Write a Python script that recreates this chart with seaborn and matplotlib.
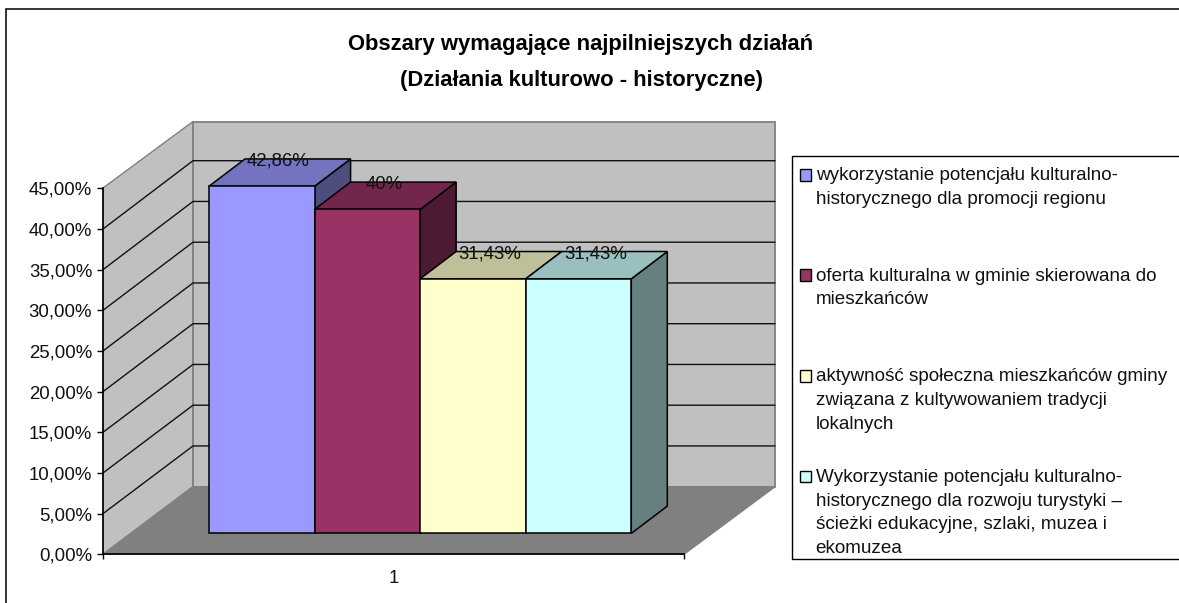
#!/usr/bin/env python3
"""Excel-style pseudo 3D column chart, rebuilt on seaborn bars."""

import matplotlib
matplotlib.use("Agg")
import matplotlib.pyplot as plt
import pandas as pd
import seaborn as sns
from matplotlib.colors import to_rgb
from matplotlib.legend_handler import HandlerPatch
from matplotlib.patches import Patch, Polygon, Rectangle

W, H = 1179, 603

TITLE = "Obszary wymagające najpilniejszych działań\n(Działania kulturowo - historyczne)"
CATEGORIES = [
    "wykorzystanie potencjału kulturalno-\nhistorycznego dla promocji regionu",
    "oferta kulturalna w gminie skierowana do\nmieszkańców",
    "aktywność społeczna mieszkańców gminy\nzwiązana z kultywowaniem tradycji\nlokalnych",
    "Wykorzystanie potencjału kulturalno-\nhistorycznego dla rozwoju turystyki –\nścieżki edukacyjne, szlaki, muzea i\nekomuzea",
]
VALUES = [42.86, 40.0, 31.43, 31.43]
VALUE_LABELS = ["42,86%", "40%", "31,43%", "31,43%"]
COLORS = ["#9999FF", "#993366", "#FFFFCC", "#CCFFFF"]
Y_TICKS = [0, 5, 10, 15, 20, 25, 30, 35, 40, 45]
Y_TICK_LABELS = ["0,00%", "5,00%", "10,00%", "15,00%", "20,00%", "25,00%", "30,00%", "35,00%", "40,00%", "45,00%"]
X_LABEL = "1"

# pixel geometry of the fake 3D box
AXIS_LEFT, AXIS_RIGHT = 103, 684
FRONT_ZERO, BACK_ZERO = 554.3, 486.7
BACK_LEFT, BACK_RIGHT = 193, 775
BACK_TOP, FRONT_TOP = 121.5, 188
FRONT_SCALE, BACK_SCALE = 8.133, 8.15
BAR_LEFT, BAR_RIGHT, BAR_BASE = 209, 631.3, 533.4
BAR_SCALE = 8.1
DEPTH_X, DEPTH_Y = 36, 27.3

FONT = ["Liberation Sans", "DejaVu Sans"]
TEXT_SIZE = 13.4
LEGEND_SIZE = 13.6
WALL = "#C0C0C0"
FLOOR = "#808080"


def axes_at(fig, left, top, right, bottom):
    return fig.add_axes([left / W, 1 - bottom / H, (right - left) / W, (bottom - top) / H])


def shade(color, factor):
    return tuple(c * factor for c in to_rgb(color))


def draw_box(ax):
    ax.add_patch(Polygon([(AXIS_LEFT, FRONT_ZERO), (BACK_LEFT, BACK_ZERO), (BACK_LEFT, BACK_TOP), (AXIS_LEFT, FRONT_TOP)],
                         facecolor=WALL, edgecolor=FLOOR, linewidth=1))
    ax.add_patch(Polygon([(BACK_LEFT, BACK_ZERO), (BACK_RIGHT, BACK_ZERO), (BACK_RIGHT, BACK_TOP), (BACK_LEFT, BACK_TOP)],
                         facecolor=WALL, edgecolor=FLOOR, linewidth=1.3))
    ax.add_patch(Polygon([(AXIS_LEFT, FRONT_ZERO), (BACK_LEFT, BACK_ZERO), (BACK_RIGHT, BACK_ZERO), (AXIS_RIGHT, FRONT_ZERO)],
                         facecolor=FLOOR, edgecolor=FLOOR, linewidth=1))
    for tick in Y_TICKS[1:-1]:
        y_front = FRONT_ZERO - tick * FRONT_SCALE
        y_back = BACK_ZERO - tick * BACK_SCALE
        ax.plot([AXIS_LEFT, BACK_LEFT, BACK_RIGHT], [y_front, y_back, y_back], color="#111111", linewidth=1)


def draw_depth_faces(ax):
    # top and side faces hang off the seaborn bars, so they follow the values
    bars = list(ax.patches)
    dx = DEPTH_X / ((BAR_RIGHT - BAR_LEFT) / len(VALUES))
    dy = DEPTH_Y / BAR_SCALE
    for bar, color, label in zip(bars, COLORS, VALUE_LABELS):
        bar.set_clip_on(False)
        x0, x1, h = bar.get_x(), bar.get_x() + bar.get_width(), bar.get_height()
        ax.add_patch(Polygon([(x1, 0), (x1 + dx, dy), (x1 + dx, h + dy), (x1, h)], facecolor=shade(color, 0.5),
                             edgecolor="black", linewidth=1.1, clip_on=False, zorder=0.5))
        ax.add_patch(Polygon([(x0, h), (x1, h), (x1 + dx, h + dy), (x0 + dx, h + dy)], facecolor=shade(color, 0.75),
                             edgecolor="black", linewidth=1.1, clip_on=False, zorder=0.5))
        ax.text((x0 + x1 + dx) / 2 - 0.012, h + dy - 0.25, label, ha="center", va="center", fontsize=TEXT_SIZE,
                color="#111111", clip_on=False, zorder=5)


def legend_handle(legend, orig_handle, xdescent, ydescent, width, height, fontsize):
    # legend centres the key on the 4 line label; move it up to the first line
    return Rectangle((xdescent, ydescent + 38 * 0.72), width, height)


def main():
    sns.set_theme(style="white")
    plt.rcParams["font.family"] = FONT

    fig = plt.figure(figsize=(W / 100, H / 100), dpi=100, facecolor="white")

    bg = fig.add_axes([0, 0, 1, 1], zorder=0)
    bg.set_xlim(0, W)
    bg.set_ylim(H, 0)
    bg.axis("off")
    bg.add_patch(Rectangle((6, 8.5), W + 20, H + 20, facecolor="white", edgecolor="#111111", linewidth=1.2))
    draw_box(bg)
    # legend frame runs off the right edge of the picture
    bg.add_patch(Rectangle((792.3, 155.7), W, 559 - 155.7, facecolor="white", edgecolor="black", linewidth=1))

    ax_axis = axes_at(fig, AXIS_LEFT, FRONT_ZERO - 45 * FRONT_SCALE, AXIS_RIGHT, FRONT_ZERO)
    ax_axis.set_zorder(1)
    ax_axis.patch.set_visible(False)
    ax_axis.set_xlim(0, 1)
    ax_axis.set_ylim(0, 45)
    ax_axis.set_yticks(Y_TICKS, Y_TICK_LABELS)
    ax_axis.set_xticks([0, 1], ["", ""])
    ax_axis.set_xticks([0.5], [X_LABEL], minor=True)
    ax_axis.tick_params(axis="y", length=4.3, width=1, pad=3.5, labelsize=TEXT_SIZE, color="black", labelcolor="#111111", left=True)
    ax_axis.tick_params(axis="x", which="major", length=3.4, width=1, color="black", bottom=True)
    ax_axis.tick_params(axis="x", which="minor", length=0, pad=11, labelsize=TEXT_SIZE, labelcolor="#111111")
    sns.despine(ax=ax_axis)
    for side in ("left", "bottom"):
        ax_axis.spines[side].set_color("black")
        ax_axis.spines[side].set_linewidth(1.2)

    ax_bar = axes_at(fig, BAR_LEFT, BAR_BASE - 45 * BAR_SCALE, BAR_RIGHT, BAR_BASE)
    ax_bar.set_zorder(2)
    ax_bar.patch.set_visible(False)
    frame = pd.DataFrame({"Obszar": CATEGORIES, "Wartosc": VALUES})
    sns.barplot(data=frame, x="Obszar", y="Wartosc", hue="Obszar", palette=COLORS, order=CATEGORIES,
                hue_order=CATEGORIES, dodge=False, width=1, saturation=1, legend=False,
                edgecolor="black", linewidth=1.1, ax=ax_bar)
    ax_bar.set_xlim(-0.5, len(VALUES) - 0.5)
    ax_bar.set_ylim(0, 45)
    ax_bar.axis("off")
    draw_depth_faces(ax_bar)

    fig.suptitle(TITLE, x=581 / W, y=1 - 34 / H, va="top", ha="center", fontsize=15.8, fontweight="bold",
                 color="black", linespacing=1.93)

    handles = [Patch(facecolor=c, edgecolor="black", linewidth=1) for c in COLORS]
    labels = [label + "\n" * (3 - label.count("\n")) for label in CATEGORIES]
    legend = bg.legend(handles, labels, loc="upper left", bbox_to_anchor=(799.7 / W, 1 - 167 / H),
                       bbox_transform=fig.transFigure, borderaxespad=0, borderpad=0, fontsize=LEGEND_SIZE,
                       frameon=False, handlelength=0.58, handleheight=0.58, handletextpad=0.26, labelspacing=0.63,
                       handler_map={Patch: HandlerPatch(patch_func=legend_handle)})
    for text in legend.get_texts():
        text.set_linespacing(1.53)
        text.set_color("#111111")

    fig.savefig("out.png", dpi=100)
    plt.close(fig)


if __name__ == "__main__":
    main()
